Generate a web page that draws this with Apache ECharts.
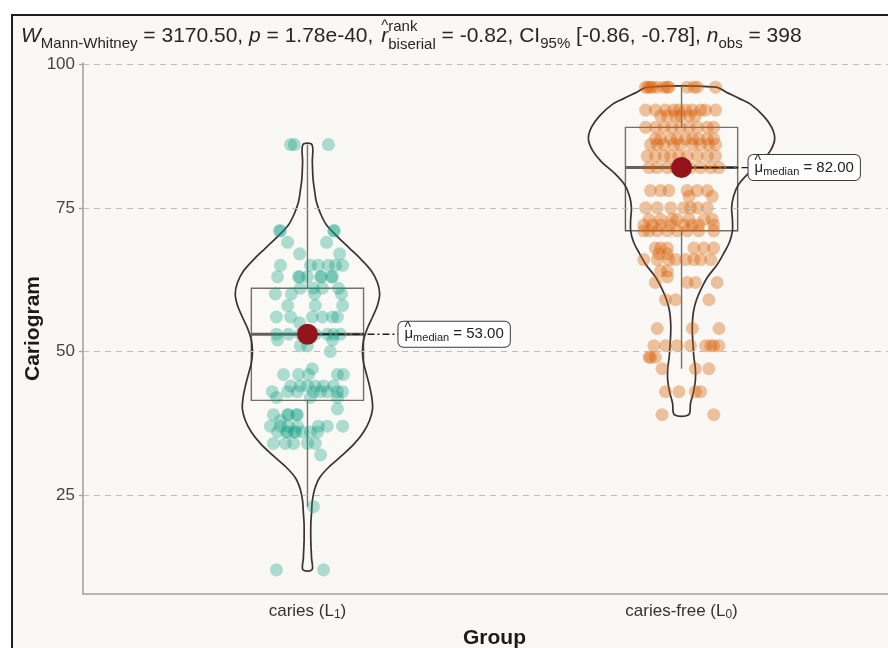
<!DOCTYPE html>
<html><head><meta charset="utf-8">
<script src="https://cdn.jsdelivr.net/npm/echarts@6/dist/echarts.min.js"></script>
<style>html,body{margin:0;padding:0;background:#fff;overflow:hidden;width:888px;height:648px}#c{width:930px;height:700px}</style>
</head><body><div id="c"></div>
<script>
// ---------- data ----------
const categories = ['caries', 'caries-free'];
const categorySub = ['1', '0'];
const groupX = [1, 2];
const yTicks = [25, 50, 75, 100];
const medians = [53, 82];
// [lower whisker, Q1, median, Q3, upper whisker]
const cariesBox = [23, 41.5, 53, 61, 86];
const freeBox = [47, 71, 82, 89, 96];
// violin outline: value levels and half-widths (in category units)
const cariesViolinY = [86, 83, 80, 78, 76, 74, 72, 70, 68, 66, 64, 62, 60, 58, 56, 54, 52, 50, 48, 46, 44, 42, 40, 38, 36, 34, 32, 30, 28, 26, 24, 22, 20, 17, 14, 12];
const cariesViolinW = [.012, .013, .015, .019, .024, .035, .051, .080, .112, .144, .171, .187, .193, .187, .174, .160, .150, .147, .150, .158, .166, .172, .174, .166, .150, .126, .094, .059, .032, .019, .013, .011, .009, .009, .011, .012];
const freeViolinY = [96, 95, 94, 93, 91, 89, 87, 85, 83, 81, 79, 77, 75, 73, 71, 69, 67, 65, 63, 61, 59, 57, 55, 53, 51, 49, 47, 45, 43, 41, 39];
const freeViolinW = [.091, .123, .155, .185, .219, .241, .249, .238, .214, .179, .152, .139, .134, .136, .136, .128, .112, .094, .070, .053, .040, .032, .029, .029, .031, .033, .037, .037, .032, .024, .019];
// jittered observations: offset from group centre, value
const cariesJitter = [-.045, -.035, .056, -.075, .072, -.072, .070, -.053, .051, -.021, .086,
  .008, .029, .056, .075, .094, -.072, -.080, -.021, -.024, 0, .035, .037, .067, .064,
  -.019, .016, .040, .083, -.086, -.043, .019, .091, -.053, .021, .094,
  -.083, -.045, .013, .040, .067, .080, -.021,
  -.083, -.051, -.019, .021, .053, .070, .088, -.080, .067, -.019, 0, .061, .013,
  -.064, -.024, .003, .080, .096, -.045, -.019, 0, .021, .043, .070,
  -.094, -.053, -.027, .016, .035, .053, .080, .094, -.083, .008, .080, .080,
  -.091, -.053, -.051, -.027, -.029, -.072,
  -.099, -.072, -.051, -.027, .029, .053, .094,
  -.080, -.053, -.056, -.032, -.035, -.013, .008, .027,
  -.091, -.059, -.037, 0, .021, .035, .016, -.083, .043];
const cariesValues = [86, 86, 86, 71, 71, 71, 71, 69, 69, 67, 67,
  65, 65, 65, 65, 65, 65, 63, 63, 63, 63, 63, 63, 63, 63,
  61, 61, 61, 61, 60, 60, 60, 60, 58, 58, 58,
  56, 56, 56, 56, 56, 56, 55,
  53, 53, 53, 53, 53, 53, 53, 52, 52, 51, 51, 50, 47,
  46, 46, 46, 46, 46, 44, 44, 44, 44, 44, 44,
  43, 43, 43, 43, 43, 43, 43, 43, 42, 42, 42, 40,
  39, 39, 39, 39, 39, 38,
  37, 37, 37, 37, 37, 37, 37,
  36, 36, 36, 36, 36, 36, 36, 36,
  34, 34, 34, 34, 34, 32, 23, 12, 12];
const freeJitter = [-.096, -.090, -.083, -.078, -.065, -.047, -.038, -.034, .015, .033, .042, .091,
  -.096, -.070, -.043, -.021, -.007, .011, .029, .051, .064, .091,
  -.056, -.038, -.016, -.003, .020, .037,
  -.096, -.070, -.047, -.025, -.003, .020, .042, .069, .086,
  -.070, -.056, -.029, -.012, .011, .029, .046, .069, .086,
  -.083, -.065, -.047, -.021, -.003, .029, .051, .073, .091,
  -.092, -.070, -.047, -.029, -.007, .015, .042, .069, .091,
  -.087, -.065, -.038, -.016, .024, .051, .078, .100,
  -.083, -.056, -.034, .015, .042, .069, .020, .082,
  -.096, -.065, -.029, .006, .024, .042, .069,
  -.087, -.056, -.025, -.012, .020, .060, .082,
  -.101, -.078, -.056, -.029, .006, .029, .046, .086,
  -.101, -.087, -.065, -.038, -.012, .015, .046, .086,
  -.070, -.056, -.038, .033, .060, .086, -.061, -.038,
  -.101, -.065, -.034, -.016, .011, .033, .051, .078,
  -.056, -.038, -.038, -.070, .015, .037, .095,
  -.043, -.016, .073, -.065, .029, .100,
  -.074, -.043, -.012, .024, .064, .078, .086, .100,
  -.087, -.083, -.070, -.052, .037, .073,
  -.043, -.007, .037, .051, -.052, .086];
const freeValues = [96, 96, 96, 96, 96, 96, 96, 96, 96, 96, 96, 96,
  92, 92, 92, 92, 92, 92, 92, 92, 92, 92,
  91, 91, 91, 91, 91, 91,
  89, 89, 89, 89, 89, 89, 89, 89, 89,
  87, 87, 87, 87, 87, 87, 87, 87, 87,
  86, 86, 86, 86, 86, 86, 86, 86, 86,
  84, 84, 84, 84, 84, 84, 84, 84, 84,
  82, 82, 82, 82, 82, 82, 82, 82,
  78, 78, 78, 78, 78, 78, 77, 77,
  75, 75, 75, 75, 75, 75, 75,
  73, 73, 73, 73, 73, 73, 73,
  72, 72, 72, 72, 72, 72, 72, 72,
  71, 71, 71, 71, 71, 71, 71, 71,
  68, 68, 68, 68, 68, 68, 67, 67,
  66, 66, 66, 66, 66, 66, 66, 66,
  64, 64, 63, 62, 62, 62, 62,
  59, 59, 59, 54, 54, 54,
  51, 51, 51, 51, 51, 51, 51, 51,
  49, 49, 49, 47, 47, 47,
  43, 43, 43, 43, 39, 39];

// ---------- chart ----------
const FONT = '"Liberation Sans", Arial, Helvetica, sans-serif';
const violins = [[cariesViolinY, cariesViolinW], [freeViolinY, freeViolinW]];
const boxes = [cariesBox, freeBox];
const pointColors = ['#109e84', '#d95f02'];
const labelDx = [91, 67];
const chart = echarts.init(document.getElementById('c'), null, { renderer: 'canvas' });

function violinItem(params, api) {
  const g = params.dataIndex;
  const ys = violins[g][0], ws = violins[g][1];
  const x = api.value(0);
  const left = ys.map((v, i) => api.coord([x - ws[i], v]));
  const right = ys.map((v, i) => api.coord([x + ws[i], v])).reverse();
  return {
    type: 'polygon',
    shape: { points: left.concat(right), smooth: 0.35 },
    style: { fill: 'rgba(255,255,255,0.15)', stroke: '#3a3330', lineWidth: 1.7 }
  };
}
function boxItem(params, api) {
  const g = params.dataIndex, b = boxes[g], x = groupX[g], hw = 0.15;
  const tl = api.coord([x - hw, b[3]]), br = api.coord([x + hw, b[1]]);
  const top = api.coord([x, b[4]]), q3 = api.coord([x, b[3]]);
  const q1 = api.coord([x, b[1]]), low = api.coord([x, b[0]]);
  const ml = api.coord([x - hw, b[2]]), mr = api.coord([x + hw, b[2]]);
  const st = { stroke: '#5e5550', lineWidth: 1.4, fill: 'none' };
  return { type: 'group', children: [
    { type: 'line', shape: { x1: top[0], y1: top[1], x2: q3[0], y2: q3[1] }, style: st },
    { type: 'line', shape: { x1: q1[0], y1: q1[1], x2: low[0], y2: low[1] }, style: st },
    { type: 'rect', shape: { x: tl[0], y: tl[1], width: br[0] - tl[0], height: br[1] - tl[1] }, style: st },
    { type: 'line', shape: { x1: ml[0], y1: ml[1], x2: mr[0], y2: mr[1] }, style: { stroke: '#4d4440', lineWidth: 3 } }
  ]};
}
function medianItem(params, api) {
  const g = params.dataIndex;
  const v = api.value(1);
  const p = api.coord([api.value(0), v]);
  const dx = labelDx[g];
  return { type: 'group', children: [
    { type: 'line', shape: { x1: p[0], y1: p[1], x2: p[0] + dx, y2: p[1] }, style: { stroke: '#1e1e1e', lineWidth: 1.3, lineDash: [7, 3, 2, 3] } },
    { type: 'circle', shape: { cx: p[0], cy: p[1], r: 10.5 }, style: { fill: '#93141d' } },
    { type: 'text', x: p[0] + dx, y: p[1], style: {
      text: '{hat|^}{mu|\u03bc}{sub|median}{v| = ' + v.toFixed(2) + '}',
      align: 'left', verticalAlign: 'middle',
      backgroundColor: '#ffffff', borderColor: '#3a3a3a', borderWidth: 1, borderRadius: 5,
      padding: [3, 6, 3, 6],
      rich: {
        hat: { fontFamily: FONT, fontSize: 14, fill: '#222', width: 0, lineHeight: 1, padding: [0, 0, 12, 0] },
        mu: { fontFamily: FONT, fontSize: 15, fill: '#222' },
        sub: { fontFamily: FONT, fontSize: 11, fill: '#222', padding: [8, 0, 0, 0] },
        v: { fontFamily: FONT, fontSize: 15, fill: '#222' }
      }
    } }
  ]};
}

const option = {
  animation: false,
  graphic: [{ type: 'rect', z: -100, silent: true,
    shape: { x: 12, y: 15, width: 940, height: 720 },
    style: { fill: '#f9f8f4', stroke: '#1e1e1e', lineWidth: 2 } }],
  title: {
    left: 21, top: 18, padding: 0,
    text: '{it|W}{sub|Mann-Whitney}{n| = 3170.50, }{it|p}{n| = 1.78e-40, }{hat|^}{it|r}{sup|rank}{subb|biserial}{n| = -0.82, CI}{sub|95%}{n| [-0.86, -0.78], }{it|n}{sub|obs}{n| = 398}',
    textStyle: {
      fontFamily: FONT, fontSize: 21, fontWeight: 'normal', color: '#262626',
      rich: {
        n: { fontFamily: FONT, fontSize: 21, color: '#262626' },
        it: { fontFamily: FONT, fontSize: 21, fontStyle: 'italic', color: '#262626' },
        hat: { fontFamily: FONT, fontSize: 15, color: '#262626', width: 0, padding: [0, 0, 22, 2] },
        sub: { fontFamily: FONT, fontSize: 15, color: '#262626', padding: [14, 0, 0, 0] },
        subb: { fontFamily: FONT, fontSize: 15, color: '#262626', padding: [16, 0, 0, 0] },
        sup: { fontFamily: FONT, fontSize: 15, color: '#262626', width: 0, padding: [0, 0, 20, 0] }
      }
    }
  },
  grid: { left: 83, top: 63, width: 823, height: 531, outerBoundsMode: 'none', containLabel: false },
  xAxis: {
    type: 'value', min: 0.4, max: 2.6,
    name: 'Group', nameLocation: 'middle', nameGap: 34, nameMoveOverlap: false,
    nameTextStyle: { fontFamily: FONT, fontSize: 21, fontWeight: 'bold', color: '#1a1a1a' },
    axisLine: { show: true, onZero: false, lineStyle: { color: '#a39d97', width: 1.5 } },
    axisTick: { show: false },
    splitLine: { show: false },
    axisLabel: {
      customValues: groupX, margin: 7,
      fontFamily: FONT, fontSize: 17, color: '#333',
      formatter: function (val) {
        const i = Math.round(val) - 1;
        return categories[i] + ' (L{s|' + categorySub[i] + '})';
      },
      rich: { s: { fontFamily: FONT, fontSize: 12, color: '#333', padding: [8, 0, 0, 0] } }
    }
  },
  yAxis: {
    type: 'value', min: 7.8, max: 100.2,
    name: 'Cariogram', nameLocation: 'middle', nameGap: 39, nameMoveOverlap: false,
    nameTextStyle: { fontFamily: FONT, fontSize: 21, fontWeight: 'bold', color: '#1a1a1a' },
    axisLine: { show: true, lineStyle: { color: '#a39d97', width: 1.5 } },
    axisTick: { show: true, customValues: yTicks, length: 4, lineStyle: { color: '#a39d97', width: 1.2 } },
    splitLine: { show: false },
    axisLabel: { customValues: yTicks, margin: 8, fontFamily: FONT, fontSize: 17, color: '#444' }
  },
  series: [
    { type: 'line', data: [], z: 0, silent: true,
      markLine: { silent: true, symbol: ['none', 'none'], label: { show: false },
        lineStyle: { type: [6, 5], color: '#c0bcb7', width: 1.2 },
        data: yTicks.map(v => ({ yAxis: v })) } },
    { type: 'custom', z: 1, silent: true, renderItem: boxItem,
      data: groupX.map((x, i) => [x, boxes[i][0], boxes[i][4]]) },
    { type: 'custom', z: 2, silent: true, renderItem: violinItem,
      data: groupX.map(x => [x]) },
    { type: 'scatter', z: 3, symbolSize: 13, silent: true,
      itemStyle: { color: pointColors[0], opacity: 0.33 },
      data: cariesValues.map((v, i) => [groupX[0] + cariesJitter[i], v]) },
    { type: 'scatter', z: 3, symbolSize: 13, silent: true,
      itemStyle: { color: pointColors[1], opacity: 0.36 },
      data: freeValues.map((v, i) => [groupX[1] + freeJitter[i], v]) },
    { type: 'custom', z: 5, silent: true, renderItem: medianItem,
      data: groupX.map((x, i) => [x, medians[i]]) }
  ]
};
chart.setOption(option);
</script></body></html>
